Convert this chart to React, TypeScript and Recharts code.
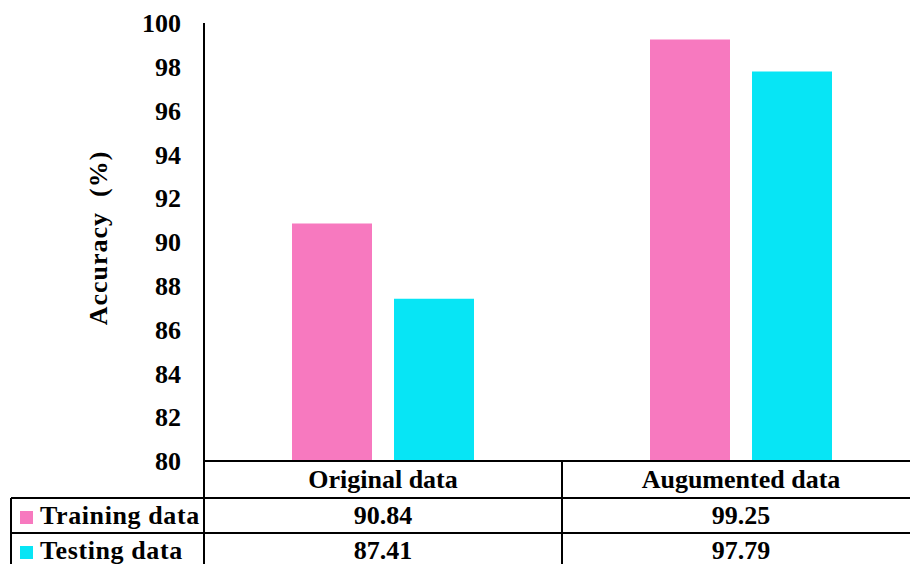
import React from 'react';
import { ComposedChart, Bar, XAxis, YAxis } from 'recharts';

const categories = ['Original data', 'Augumented data'];
const trainingAcc = [90.84, 99.25];
const testingAcc = [87.41, 97.79];
const seriesNames = ['Training data', 'Testing data'];
const seriesColors = ['#F779BF', '#07E5F5'];
const yTicks = [80, 82, 84, 86, 88, 90, 92, 94, 96, 98, 100];

const rows = [trainingAcc, testingAcc];

const data = categories.map((name, i) => ({
  name,
  training: trainingAcc[i],
  testing: testingAcc[i],
}));

const FONT = "'Liberation Serif', Tinos, 'Times New Roman', serif";
const HEADER_H = 37;
const ROW_H = 35;
const TABLE_BOTTOM = 140;
const LABEL_COL = 193;

const textStyle: React.CSSProperties = { fontFamily: FONT, fontWeight: 700, fontSize: 26, fill: '#000' };

// data table under the plot: one column per category, one row per series
const TableTick = (props: any) => {
  const { x, y, payload, index, width, visibleTicksCount } = props;
  const band = (width ?? 716) / (visibleTicksCount ?? categories.length);
  const left = x - band / 2;
  const right = x + band / 2;
  const lineY = [y + HEADER_H, y + HEADER_H + ROW_H];

  return (
    <g>
      <line x1={right} x2={right} y1={y} y2={y + TABLE_BOTTOM} stroke="#000" strokeWidth={2} />
      {index === 0 && (
        <line x1={left} x2={left} y1={y} y2={y + TABLE_BOTTOM} stroke="#000" strokeWidth={2} />
      )}
      {lineY.map((ly) => (
        <line key={ly} x1={index === 0 ? left - LABEL_COL : left} x2={right} y1={ly} y2={ly} stroke="#000" strokeWidth={2} />
      ))}
      {index === 0 && (
        <line x1={left - LABEL_COL} x2={left - LABEL_COL} y1={lineY[0]} y2={y + TABLE_BOTTOM} stroke="#000" strokeWidth={2} />
      )}
      <text x={x} y={y + 27} textAnchor="middle" style={textStyle}>
        {payload.value}
      </text>
      {rows.map((vals, r) => (
        <text key={r} x={x} y={lineY[r] + 26} textAnchor="middle" style={textStyle}>
          {vals[index].toFixed(2)}
        </text>
      ))}
      {index === 0 &&
        seriesNames.map((name, r) => (
          <g key={name}>
            <rect x={left - LABEL_COL + 9} y={lineY[r] + 13} width={13} height={13} fill={seriesColors[r]} />
            <text x={left - LABEL_COL + 29} y={lineY[r] + 26} textAnchor="start" style={{ ...textStyle, letterSpacing: 0.6 }}>
              {name}
            </text>
          </g>
        ))}
    </g>
  );
};

const AxisTitle = (props: any) => {
  const { viewBox } = props;
  const cx = viewBox.x + 98;
  const cy = viewBox.y + viewBox.height / 2 - 4;
  return (
    <text
      x={cx}
      y={cy}
      transform={`rotate(-90, ${cx}, ${cy})`}
      textAnchor="middle"
      dominantBaseline="central"
      style={{ ...textStyle, letterSpacing: 1, whiteSpace: 'pre' }}
    >
      Accuracy  (%)
    </text>
  );
};

export default function App() {
  return (
    <div
      style={{
        position: 'fixed',
        left: 0,
        top: 0,
        width: 910,
        height: 564,
        overflow: 'hidden',
        background: '#fff',
      }}
    >
      <ComposedChart
        width={920}
        height={600}
        data={data}
        margin={{ top: 23, right: 0, left: 0, bottom: 0 }}
        barGap={22}
      >
        <XAxis
          dataKey="name"
          height={139}
          axisLine={{ stroke: '#000', strokeWidth: 2 }}
          tickLine={false}
          tickSize={0}
          tickMargin={0}
          interval={0}
          tick={<TableTick />}
        />
        <YAxis
          width={204}
          domain={[80, 100]}
          ticks={yTicks}
          allowDataOverflow
          axisLine={{ stroke: '#000', strokeWidth: 2 }}
          tickLine={false}
          tickSize={0}
          tickMargin={23}
          tick={{ style: textStyle }}
          label={<AxisTitle />}
        />
        <Bar dataKey="training" name={seriesNames[0]} fill={seriesColors[0]} barSize={80} isAnimationActive={false} />
        <Bar dataKey="testing" name={seriesNames[1]} fill={seriesColors[1]} barSize={80} isAnimationActive={false} />
      </ComposedChart>
    </div>
  );
}
